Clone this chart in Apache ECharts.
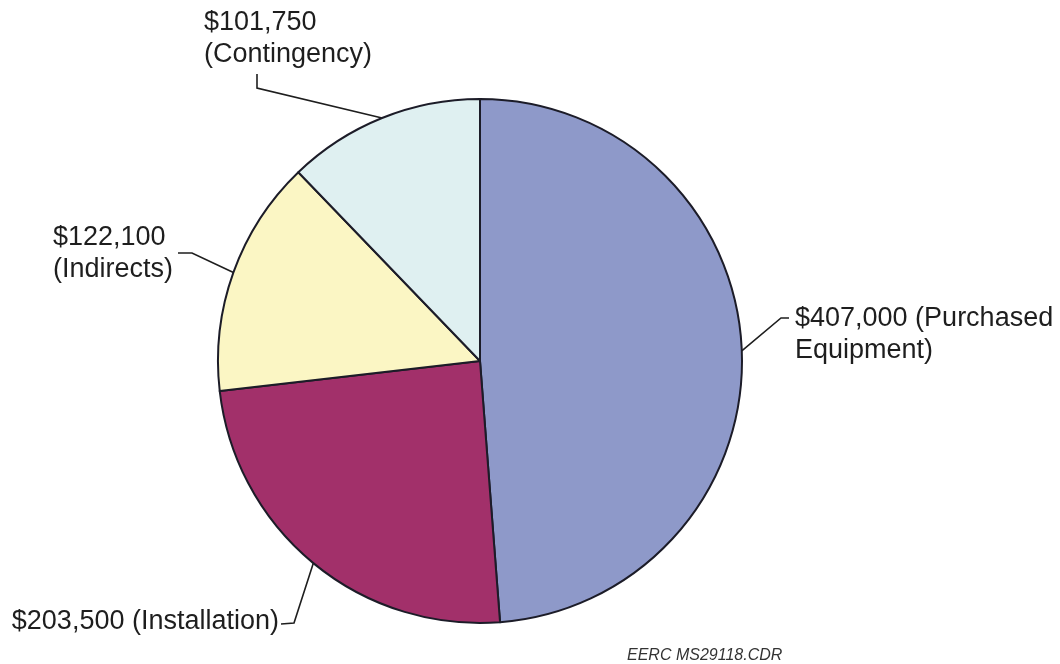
<!DOCTYPE html>
<html>
<head>
<meta charset="utf-8">
<title>Capital Cost Breakdown</title>
<script src="https://cdn.jsdelivr.net/npm/echarts@6/dist/echarts.min.js"></script>
<style>
  html, body { margin: 0; padding: 0; background: #ffffff; }
  #chart { width: 1060px; height: 664px; }
</style>
</head>
<body>
<div id="chart"></div>
<script>
// Cost components (US dollars), drawn clockwise from 12 o'clock
const categories = ['Purchased Equipment', 'Installation', 'Indirects', 'Contingency'];
const costs = [407000, 203500, 122100, 101750];
const footerText = 'EERC MS29118.CDR';

// Slice fills
const sliceColors = ['#8e99c9', '#a2306a', '#fbf6c4', '#dff0f1'];

// Where each label sits and how its leader bends (x, y of the label box,
// alignment, elbow and end of the leader line)
const labelPlacement = [
  { x: 795, y: 303, align: 'left',  vAlign: 'top',    elbow: [781, 318], end: [789, 318], text: (v) => v + ' (Purchased\nEquipment)' },
  { x: 279, y: 622, align: 'right', vAlign: 'middle', elbow: [294, 623], end: [281, 624], text: (v) => v + ' (Installation)' },
  { x: 53,  y: 222, align: 'left',  vAlign: 'top',    elbow: [192, 253], end: [178, 253], text: (v) => v + '\n(Indirects)' },
  { x: 204, y: 7,   align: 'left',  vAlign: 'top',    elbow: [257, 88],  end: [257, 74],  text: (v) => v + '\n(Contingency)' }
];

const center = [480, 361];
const radius = 262;

function money(v) {
  return '$' + v.toLocaleString('en-US');
}

// Mid-angle edge point of a slice, used when the library does not hand one over
const total = costs.reduce((a, b) => a + b, 0);
function edgePoint(i) {
  let before = 0;
  for (let k = 0; k < i; k++) before += costs[k];
  const mid = (before + costs[i] / 2) / total * Math.PI * 2; // clockwise from top
  return [center[0] + radius * Math.sin(mid), center[1] - radius * Math.cos(mid)];
}

const chart = echarts.init(document.getElementById('chart'), null, { renderer: 'canvas' });

chart.setOption({
  backgroundColor: '#ffffff',
  animation: false,
  title: {
    text: footerText,
    left: 627,
    top: 648,
    padding: 0,
    textStyle: {
      fontFamily: 'Liberation Sans, Arial, sans-serif',
      fontStyle: 'italic',
      fontWeight: 'normal',
      fontSize: 16,
      color: '#333333'
    }
  },
  series: [{
    type: 'pie',
    center: center,
    radius: radius,
    startAngle: 90,
    clockwise: true,
    avoidLabelOverlap: false,
    emphasis: { disabled: true },
    data: categories.map((name, i) => ({
      name: name,
      value: costs[i],
      itemStyle: { color: sliceColors[i] }
    })),
    itemStyle: {
      borderColor: '#1c1c28',
      borderWidth: 2
    },
    label: {
      show: true,
      position: 'outside',
      fontFamily: 'Liberation Sans, Arial, sans-serif',
      fontSize: 27,
      lineHeight: 32,
      color: '#1e1e1e',
      formatter: (p) => labelPlacement[p.dataIndex].text(money(p.value))
    },
    labelLine: {
      show: true,
      length: 20,
      length2: 10,
      lineStyle: { color: '#1e1e1e', width: 1.6 }
    },
    labelLayout: (params) => {
      const spec = labelPlacement[params.dataIndex];
      const start = (params.labelLinePoints && params.labelLinePoints[0])
        ? params.labelLinePoints[0]
        : edgePoint(params.dataIndex);
      return {
        x: spec.x,
        y: spec.y,
        align: spec.align,
        verticalAlign: spec.vAlign,
        labelLinePoints: [start, spec.elbow, spec.end]
      };
    }
  }]
});
</script>
</body>
</html>
